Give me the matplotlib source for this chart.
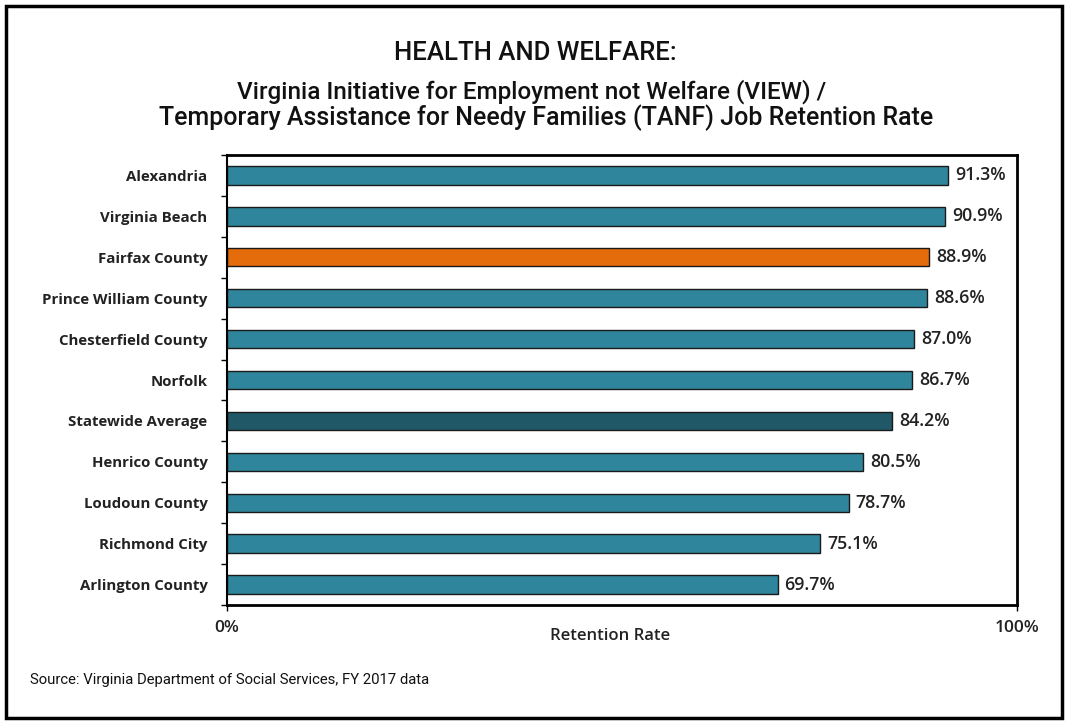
import matplotlib
matplotlib.use("Agg")
import matplotlib.pyplot as plt
from matplotlib.patches import Rectangle

categories = ["Alexandria", "Virginia Beach", "Fairfax County", "Prince William County",
              "Chesterfield County", "Norfolk", "Statewide Average", "Henrico County",
              "Loudoun County", "Richmond City", "Arlington County"]
values = [91.3, 90.9, 88.9, 88.6, 87.0, 86.7, 84.2, 80.5, 78.7, 75.1, 69.7]
value_labels = ["91.3%", "90.9%", "88.9%", "88.6%", "87.0%", "86.7%", "84.2%",
                "80.5%", "78.7%", "75.1%", "69.7%"]
xtick_labels = ["0%", "100%"]

TEAL = "#2F859B"
ORANGE = "#E46C0A"
DARK = "#215868"
colors = [ORANGE if c == "Fairfax County" else DARK if c == "Statewide Average" else TEAL
          for c in categories]

FONT = ["Roboto", "DejaVu Sans"]
LFONT = ["Open Sans", "DejaVu Sans"]

W, H = 1068, 724
fig = plt.figure(figsize=(W / 100, H / 100), dpi=100)
fig.patch.set_facecolor("white")

# outer border
fig.add_artist(Rectangle((6 / W, 6 / H), 1 - 12 / W, 1 - 12 / H, transform=fig.transFigure,
                         fill=False, edgecolor="black", linewidth=2.5))

l, r, t, b = 227, 1017, 155, 605
ax = fig.add_axes([l / W, 1 - b / H, (r - l) / W, (b - t) / H])

y = list(range(len(categories)))
ax.barh(y, values, height=0.45, color=colors, edgecolor="#1a1a1a", linewidth=1.0)
ax.set_xlim(0, 100)
ax.set_ylim(len(categories) - 0.5, -0.5)

for yi, v, lab in zip(y, values, value_labels):
    ax.annotate(lab, (v, yi), xytext=(5, 0), textcoords="offset points", va="center",
                ha="left", fontsize=12.8, fontweight="semibold", family=LFONT, color="#222222")

ax.set_yticks([i + 0.5 for i in range(-1, len(categories))])
ax.set_yticklabels([])
ax.set_yticks(y, minor=True)
ax.set_yticklabels(categories, minor=True, fontsize=10.8, fontweight="bold",
                   family=LFONT, color="#222222")
ax.tick_params(axis="y", which="major", length=4, width=1, direction="out")
ax.tick_params(axis="y", which="minor", length=0, pad=14)

ax.set_xticks([0, 100])
ax.set_xticklabels(xtick_labels, fontsize=12.5, fontweight="semibold", family=LFONT,
                   color="#222222")
ax.tick_params(axis="x", length=4, width=1, direction="out", pad=7)

for side, lw in [("left", 1.5), ("bottom", 2.0), ("right", 2.0), ("top", 2.0)]:
    ax.spines[side].set_linewidth(lw)
    ax.spines[side].set_color("black")

fig.text(610 / W, 1 - 636 / H, "Retention Rate", ha="center", va="center", fontsize=12,
         fontweight="semibold", family=LFONT, color="#222222")

fig.text(535 / W, 1 - 53 / H, "HEALTH AND WELFARE:", ha="center", va="center",
         fontsize=18.5, fontweight="medium", family=FONT, color="#111111")
fig.text(532 / W, 1 - 92 / H, "Virginia Initiative for Employment not Welfare (VIEW) /",
         ha="center", va="center", fontsize=17.5, fontweight="medium", family=FONT,
         color="#111111")
fig.text(546 / W, 1 - 118 / H,
         "Temporary Assistance for Needy Families (TANF) Job Retention Rate",
         ha="center", va="center", fontsize=18, fontweight="medium", family=FONT,
         color="#111111")

fig.text(30 / W, 1 - 680 / H, "Source: Virginia Department of Social Services, FY 2017 data",
         ha="left", va="center", fontsize=10.7, family=FONT, color="#111111")

fig.savefig("out.png", dpi=100, facecolor="white")
